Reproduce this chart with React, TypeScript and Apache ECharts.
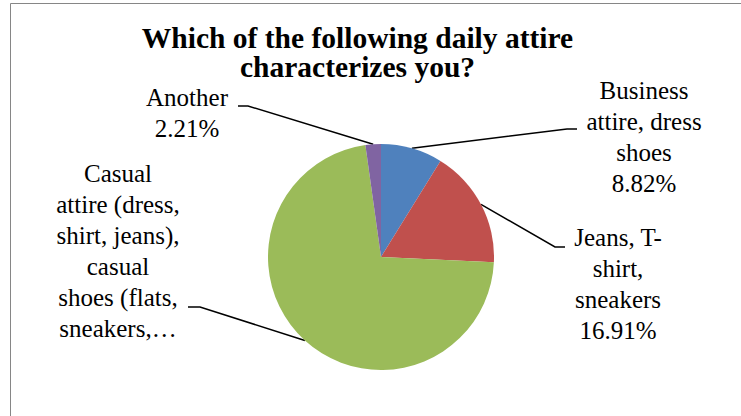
import React, { useEffect, useRef } from "react";
import * as echarts from "echarts";

const titleLines = ["Which of the following daily attire", "characterizes you?"];
const categories = [
  "Business\nattire, dress\nshoes",
  "Jeans, T-\nshirt,\nsneakers",
  "Casual\nattire (dress,\nshirt, jeans),\ncasual\nshoes (flats,\nsneakers,…",
  "Another",
];
const values = [8.82, 16.91, 72.06, 2.21];
const showPercent = [true, true, false, true];
const colors = ["#4F81BD", "#C0504D", "#9BBB59", "#8064A2"];

// label layout: text block centre and leader-line elbow points (pixels)
const labelPos = [
  { x: 644, y: 137, elbow: [567, 129], end: [577, 129] },
  { x: 618, y: 284, elbow: [555, 247], end: [565, 247] },
  { x: 118, y: 251, elbow: [200, 307], end: [188, 307] },
  { x: 187, y: 113, elbow: [248, 106], end: [238, 106] },
];

export default function App() {
  const ref = useRef<HTMLDivElement>(null);
  useEffect(() => {
    if (!ref.current) return;
    const chart = echarts.init(ref.current, undefined, { renderer: "svg" });
    const font = "Liberation Serif";
    const labelTexts = categories.map((c, i) => ({
      type: "rect",
      silent: true,
      shape: { x: labelPos[i].x, y: labelPos[i].y, width: 0, height: 0 },
      style: { fill: "transparent" },
      textContent: {
        style: {
          text: showPercent[i] ? `${c}\n${values[i].toFixed(2)}%` : c,
          fontFamily: font,
          fontSize: 25,
          lineHeight: 31,
          fill: "#000",
          align: "center",
        },
      },
      textConfig: { position: "inside" },
    }));
    chart.setOption({
      animation: false,
      backgroundColor: "#fff",
      textStyle: { fontFamily: font },
      graphic: [
        {
          type: "rect",
          shape: { x: 10.5, y: 3.5, width: 900, height: 600 },
          style: { fill: "none", stroke: "#868686", lineWidth: 1 },
          silent: true,
        },
        {
          type: "text",
          x: 357.5,
          y: 23,
          style: {
            text: titleLines.join("\n"),
            align: "center",
            verticalAlign: "top",
            fontFamily: font,
            fontWeight: "bold",
            fontSize: 29.5,
            lineHeight: 29,
            fill: "#000",
          },
        },
        ...labelTexts,
      ],
      series: [
        {
          type: "pie",
          center: [381, 257],
          radius: 113,
          startAngle: 90,
          clockwise: true,
          avoidLabelOverlap: false,
          data: categories.map((c, i) => ({
            name: c,
            value: values[i],
            itemStyle: { color: colors[i] },
          })),
          label: {
            show: true,
            position: "outside",
            fontSize: 1,
            color: "transparent",
            formatter: " ",
          },
          labelLine: {
            show: true,
            length: 5,
            length2: 5,
            lineStyle: { color: "#000", width: 1.5 },
          },
          labelLayout: (params: any) => {
            const lp = labelPos[params.dataIndex];
            const start = params.labelLinePoints
              ? params.labelLinePoints[0]
              : [lp.elbow[0], lp.elbow[1]];
            return {
              x: lp.end[0],
              y: lp.end[1],
              labelLinePoints: [start, lp.elbow, lp.end],
            };
          },
        },
      ],
    });
    return () => chart.dispose();
  }, []);
  return (
    <div
      ref={ref}
      style={{ position: "fixed", left: 0, top: 0, width: 741, height: 416 }}
    />
  );
}
